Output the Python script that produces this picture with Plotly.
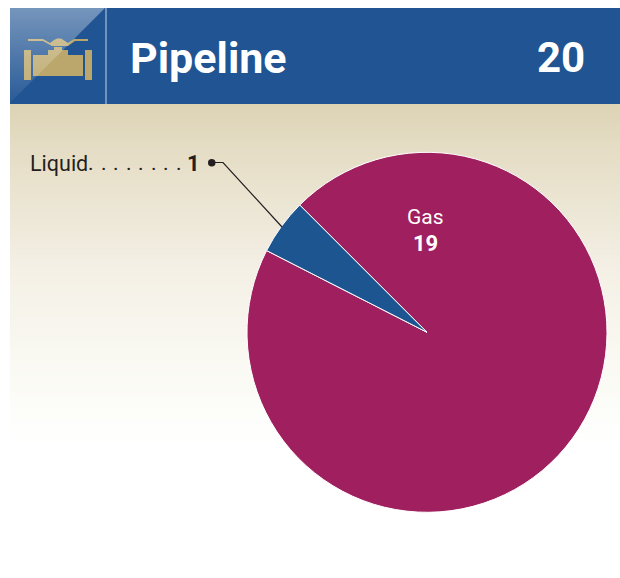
import plotly.graph_objects as go

categories = ["Gas", "Liquid"]
values = [19, 1]
colors = ["#A01F5F", "#1C5590"]
title = "Pipeline"
total = "20"

W, H = 620, 578
px = lambda x: x / W
py = lambda y: 1 - y / H


def lerp(a, b, t):
    return tuple(round(a[i] + (b[i] - a[i]) * t) for i in range(3))


def rect(x0, y0, x1, y1, color, layer="below"):
    return dict(type="rect", xref="paper", yref="paper", x0=px(x0), x1=px(x1), y0=py(y1), y1=py(y0),
                fillcolor=color, line_width=0, layer=layer)


def path(points, color, layer="above"):
    d = "M " + " L ".join(f"{px(x):.5f},{py(y):.5f}" for x, y in points) + " Z"
    return dict(type="path", xref="paper", yref="paper", path=d, fillcolor=color, line_width=0, layer=layer)


shapes = []
# beige gradient background
stops = [(104, (221, 212, 182)), (150, (229, 221, 197)), (270, (244, 240, 230)), (350, (249, 248, 241)),
         (400, (252, 252, 248)), (445, (255, 255, 255))]
for (y0, c0), (y1, c1) in zip(stops, stops[1:]):
    for y in range(y0, y1, 3):
        c = lerp(c0, c1, (y - y0) / (y1 - y0))
        shapes.append(rect(10, y, 620, y + 3.5, f"rgb{c}"))

# header
BLUE = "#205493"
shapes.append(rect(10, 8, 620, 104, BLUE, "above"))
shapes.append(rect(105, 8, 107, 104, "#6F93BE", "above"))
GOLD = "#BBA76B"
shapes += [
    rect(24, 50, 31, 80, GOLD, "above"),
    rect(85, 50, 92, 80, GOLD, "above"),
    path([(33, 76), (33, 55), (48, 55), (48, 50), (54, 50), (54, 47), (62, 47), (62, 50), (68, 50), (68, 55), (83, 55), (83, 76)], GOLD),
    path([(28, 39), (43, 39), (50, 43), (54, 40), (57, 38.5), (61, 38.5), (65, 41), (68, 43), (74, 39), (88, 39), (88, 41), (75, 41), (68, 46), (52, 46), (43, 41), (28, 41)], GOLD),
]
# glossy triangle in the header corner
for y in range(8, 103, 2):
    a = 0.34 * (1 - (y - 8) / 95) + 0.04
    xr = 105 - (y - 8)
    shapes.append(path([(10, y), (xr, y), (xr - 2, y + 2), (10, y + 2)], f"rgba(255,255,255,{a:.3f})"))

# leader line
shapes.append(dict(type="path", xref="paper", yref="paper",
                   path=f"M {px(212)},{py(162.5)} L {px(223)},{py(162.5)} L {px(282)},{py(227)}",
                   line=dict(color="#231F20", width=1.2), layer="above"))
shapes.append(dict(type="circle", xref="paper", yref="paper", x0=px(208), x1=px(215.5), y0=py(166.5), y1=py(159),
                   fillcolor="#231F20", line_width=0, layer="above"))


def text(x, y, s, size, color, family="Roboto", anchor="left"):
    return dict(xref="paper", yref="paper", x=px(x), y=py(y), text=s, showarrow=False, xanchor=anchor, yanchor="middle",
                font=dict(family=family, size=size, color=color), align="center")


annotations = [
    text(128, 58, f"<b>{title}</b>", 43, "white"),
    text(587, 58, f"<b>{total}</b>", 42, "white", anchor="right"),
    text(28, 163, categories[1], 21.5, "#231F20"),
    text(185, 163, f"<b>{values[1]}</b>", 22, "#231F20"),
    text(425.5, 217, categories[0], 21, "white", anchor="center"),
    text(425.5, 243, f"<b>{values[0]}</b>", 22, "white", anchor="center"),
]
annotations += [text(86 + 12.5 * i, 163, ".", 21, "#231F20") for i in range(8)]

fig = go.Figure(go.Pie(
    labels=categories, values=values, sort=False, direction="clockwise", rotation=315,
    marker=dict(colors=colors, line=dict(color="white", width=1)),
    textinfo="none", hoverinfo="label+value", showlegend=False,
    domain=dict(x=[px(247), px(607)], y=[py(512.3), py(152.3)]),
))
fig.update_layout(width=W, height=H, margin=dict(l=0, r=0, t=0, b=0), paper_bgcolor="white",
                  shapes=shapes, annotations=annotations)
fig.write_html("out.html", config=dict(displayModeBar=False),
               post_script="document.body.style.margin='0';document.body.style.overflow='hidden';")
